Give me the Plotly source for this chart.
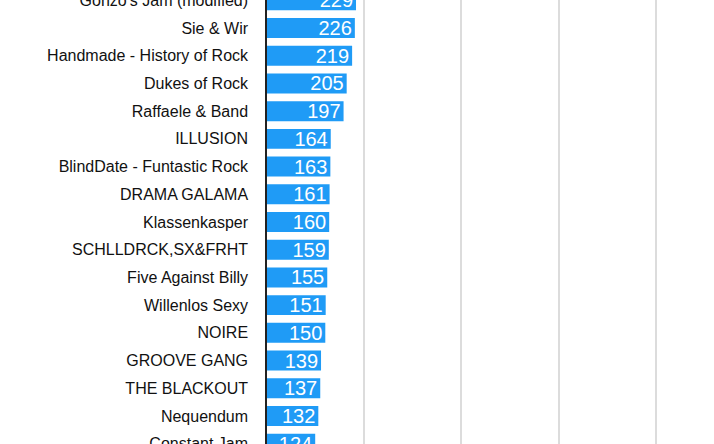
import plotly.graph_objects as go

bands = [
    "Gonzo's Jam (modified)", "Sie & Wir", "Handmade - History of Rock",
    "Dukes of Rock", "Raffaele & Band", "ILLUSION", "BlindDate - Funtastic Rock",
    "DRAMA GALAMA", "Klassenkasper", "SCHLLDRCK,SX&FRHT", "Five Against Billy",
    "Willenlos Sexy", "NOIRE", "GROOVE GANG", "THE BLACKOUT", "Nequendum",
    "Constant Jam",
]
votes = [229, 226, 219, 205, 197, 164, 163, 161, 160, 159, 155, 151, 150, 139, 137, 132, 124]
grid_ticks = [0, 250, 500, 750, 1000]

fig = go.Figure()

fig.add_trace(go.Bar(
    x=votes,
    y=bands,
    orientation='h',
    text=[str(v) for v in votes],
    textposition='inside',
    insidetextanchor='end',
    textfont=dict(color='white', size=20, family='Liberation Sans, Arial, sans-serif'),
    marker=dict(color='#1f9bf6', line=dict(width=0)),
    cliponaxis=False,
))

fig.update_layout(
    width=714,
    height=444,
    margin=dict(l=267, r=0, t=0, b=0, pad=0, autoexpand=False),
    paper_bgcolor='white',
    plot_bgcolor='white',
    bargap=0.28,
    showlegend=False,
    font=dict(family='Liberation Sans, Arial, sans-serif', color='#111111'),
    uniformtext=dict(minsize=20, mode='show'),
)

fig.update_xaxes(
    range=[0, 1150],
    tickvals=grid_ticks,
    showticklabels=False,
    showgrid=True,
    gridcolor='#dcdcdc',
    gridwidth=1.5,
    zeroline=False,
    showline=False,
    automargin=False,
)

fig.update_yaxes(
    categoryorder='array',
    categoryarray=bands,
    range=[16.011, -0.011],
    showgrid=False,
    showline=True,
    linecolor='#222222',
    linewidth=1.5,
    ticks='',
    ticklabelstandoff=14,
    tickfont=dict(size=16, color='#111111'),
    automargin=False,
)

# page body has an 8px default margin, drop it so the chart fills the window
fig.write_html(
    "out.html",
    config={'displayModeBar': False},
    post_script="document.body.style.margin='0';",
)
